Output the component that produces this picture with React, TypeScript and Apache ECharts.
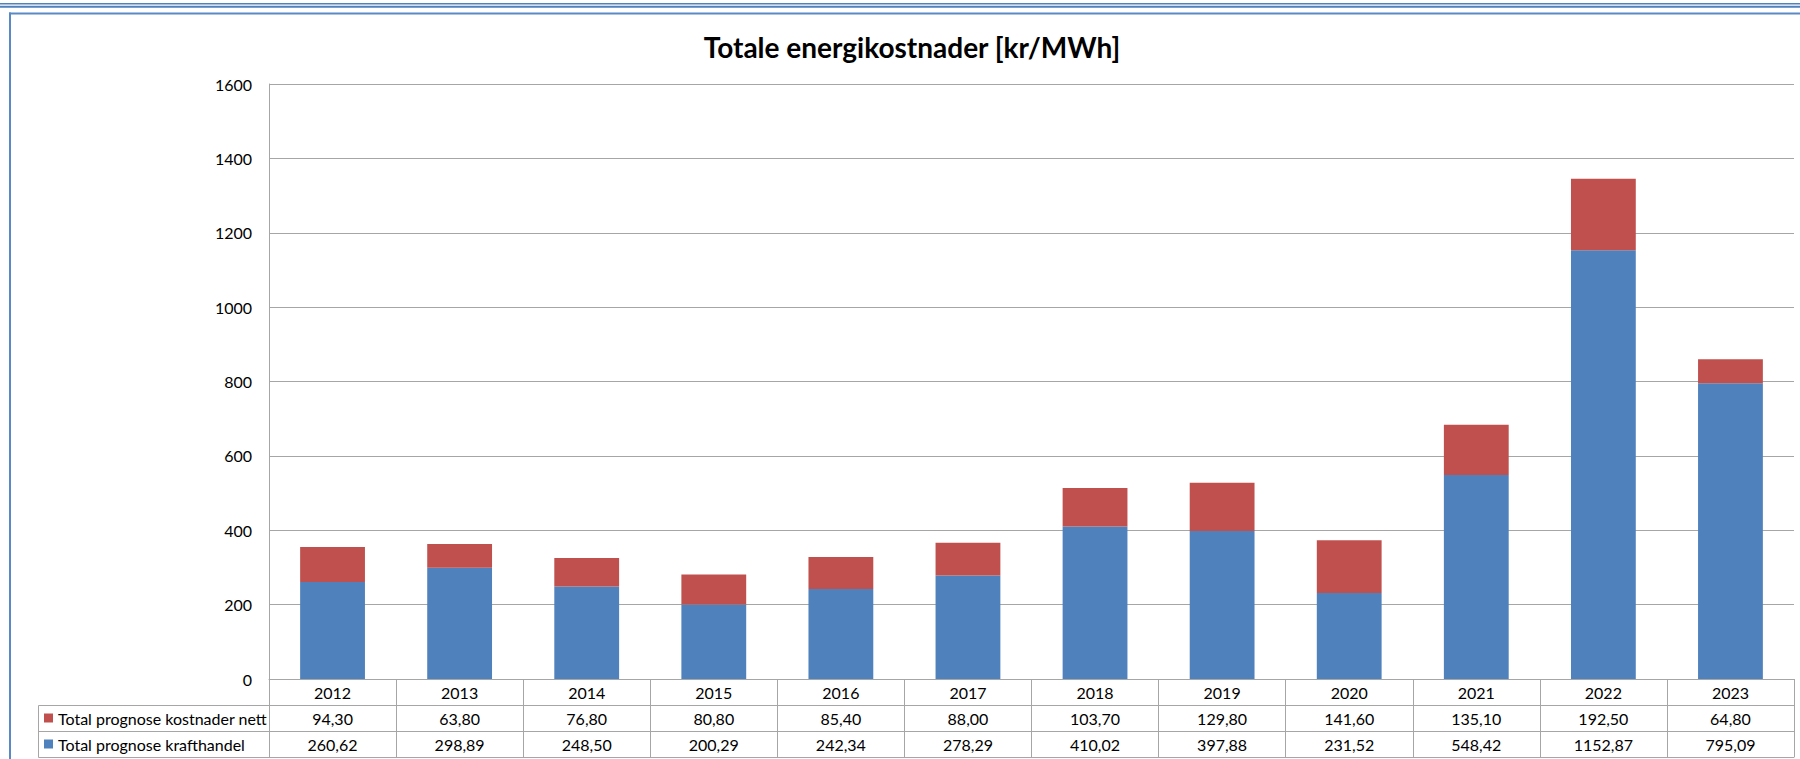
import React, { useEffect, useRef } from "react";
import * as echarts from "echarts";

const years = ["2012", "2013", "2014", "2015", "2016", "2017", "2018", "2019", "2020", "2021", "2022", "2023"];
const nettValues = [94.3, 63.8, 76.8, 80.8, 85.4, 88.0, 103.7, 129.8, 141.6, 135.1, 192.5, 64.8];
const kraftValues = [260.62, 298.89, 248.5, 200.29, 242.34, 278.29, 410.02, 397.88, 231.52, 548.42, 1152.87, 795.09];
const nettName = "Total prognose kostnader nett";
const kraftName = "Total prognose krafthandel";
const titleText = "Totale energikostnader [kr/MWh]";

const fmt = (v: number) => v.toFixed(2).replace(".", ",");

const FONT = "Lato";
const FS = 16;
const GRAY = "#a6a6a6";
const BLUE = "#4f81bd";
const RED = "#c0504d";

export default function App() {
  const ref = useRef<HTMLDivElement>(null);
  useEffect(() => {
    if (!ref.current) return;
    const chart = echarts.init(ref.current, null, { renderer: "svg" });
    const tableAxis = (data: string[], offset: number, showLabel: boolean) => ({
      type: "category",
      gridIndex: 0,
      position: "bottom",
      offset,
      data,
      boundaryGap: true,
      axisLine: { show: true, lineStyle: { color: GRAY, width: 1 } },
      axisTick: { show: showLabel, length: 26, interval: 0, alignWithLabel: false, lineStyle: { color: GRAY, width: 1 } },
      axisLabel: {
        show: showLabel,
        interval: 0,
        margin: 0,
        lineHeight: 26,
        fontFamily: FONT,
        fontSize: FS,
        color: "#000",
      },
      splitLine: { show: false },
    });
    chart.setOption({
      animation: false,
      backgroundColor: "#ffffff",
      textStyle: { fontFamily: FONT },
      title: {
        text: titleText,
        left: 912,
        top: 33,
        textAlign: "center",
        padding: 0,
        textStyle: { fontFamily: FONT, fontWeight: "bold", fontSize: 28, color: "#000" },
      },
      legend: {
        data: [nettName, kraftName],
        orient: "vertical",
        left: 44,
        top: 710,
        padding: 0,
        itemWidth: 9,
        itemHeight: 9,
        itemGap: 10,
        icon: "rect",
        selectedMode: false,
        textStyle: { fontFamily: FONT, fontSize: FS, lineHeight: 16, color: "#000" },
      },
      grid: { left: 269, right: 6, top: 84, bottom: 80, containLabel: false },
      xAxis: [
        tableAxis(years, 0, true),
        tableAxis(nettValues.map(fmt), 26, true),
        tableAxis(kraftValues.map(fmt), 52, true),
        tableAxis(years.map(() => ""), 78, false),
      ],
      yAxis: {
        type: "value",
        min: 0,
        max: 1600,
        interval: 200,
        axisLine: { show: true, lineStyle: { color: GRAY, width: 1 } },
        axisTick: { show: false },
        axisLabel: {
          margin: 17,
          fontFamily: FONT,
          fontSize: FS,
          color: "#000",
          formatter: (v: number) => String(v),
        },
        splitLine: { show: true, lineStyle: { color: GRAY, width: 1 } },
      },
      series: [
        {
          name: kraftName,
          type: "bar",
          stack: "total",
          barWidth: "51%",
          data: kraftValues,
          itemStyle: { color: BLUE },
        },
        {
          name: nettName,
          type: "bar",
          stack: "total",
          barWidth: "51%",
          data: nettValues,
          itemStyle: { color: RED },
        },
      ],
      graphic: [
        { type: "rect", shape: { x: 0, y: 3, width: 1800, height: 1.5 }, style: { fill: BLUE } },
        { type: "rect", shape: { x: 0, y: 5.8, width: 1800, height: 2 }, style: { fill: BLUE } },
        { type: "rect", shape: { x: 9, y: 12.5, width: 1791, height: 2 }, style: { fill: "#5a8ac6" } },
        { type: "rect", shape: { x: 9, y: 12.5, width: 2, height: 760 }, style: { fill: "#5a8ac6" } },
        {
          type: "rect",
          shape: { x: 38.5, y: 705.5, width: 231, height: 52 },
          style: { fill: "none", stroke: GRAY, lineWidth: 1 },
        },
        {
          type: "line",
          shape: { x1: 38.5, y1: 731.5, x2: 269.5, y2: 731.5 },
          style: { stroke: GRAY, lineWidth: 1 },
        },
      ],
    });
    return () => chart.dispose();
  }, []);
  return (
    <div
      ref={ref}
      style={{ position: "fixed", left: 0, top: 0, width: 1800, height: 759, background: "#fff" }}
    />
  );
}
